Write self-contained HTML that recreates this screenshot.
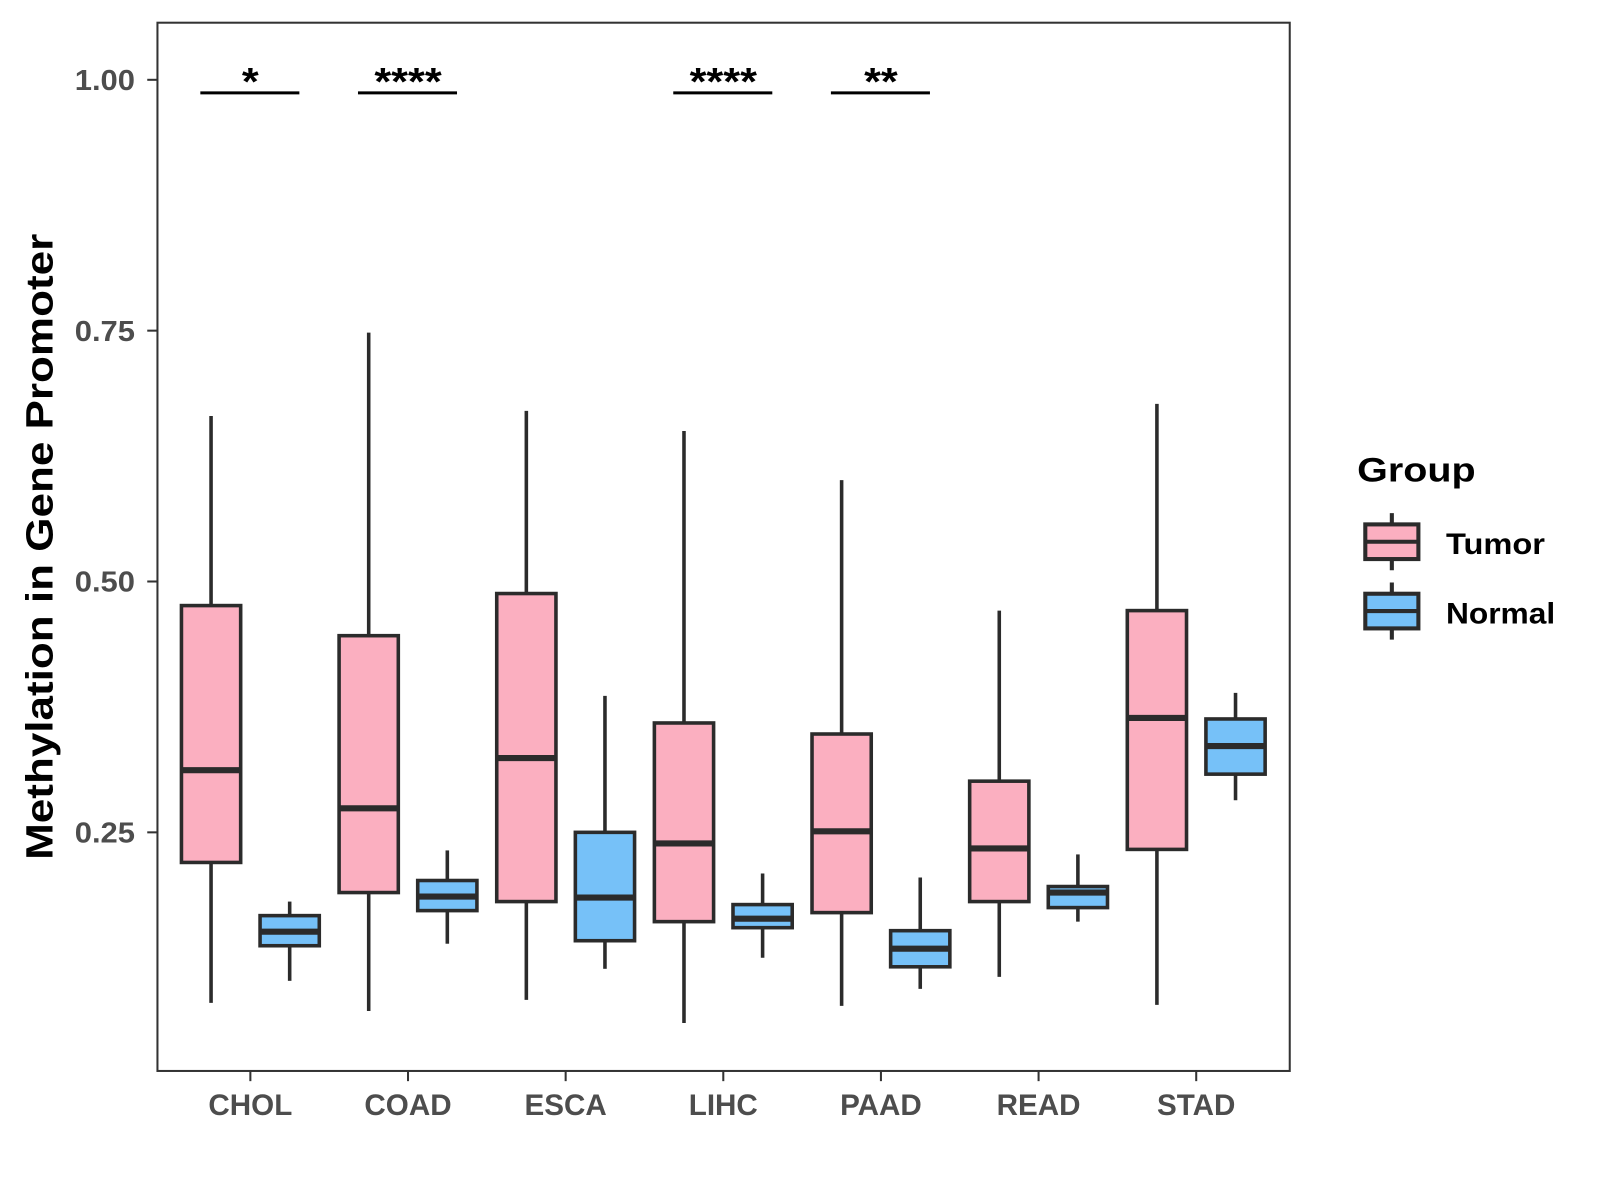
<!DOCTYPE html>
<html><head><meta charset="utf-8"><style>
html,body{margin:0;padding:0;background:#fff;}
svg{display:block;font-family:"Liberation Sans",Arial,sans-serif;}
</style></head><body>
<svg id="chart" width="1600" height="1200" viewBox="0 0 1600 1200">
<g id="root" transform="translate(-0.8,0.27) scale(1.021,1.0197)">
<rect x="155" y="22" width="1109" height="1028" fill="#fff" stroke="#333" stroke-width="2"/>
<g id="yaxis"></g>
<g id="xaxis"></g>
<g id="boxes"></g>
<g id="sig"></g>
<text transform="translate(52,536) rotate(-90)" text-anchor="middle" font-size="37" font-weight="bold" fill="#000" textLength="614" lengthAdjust="spacingAndGlyphs">Methylation in Gene Promoter</text>
<g>
<text x="1330" y="472" font-size="34" font-weight="bold" fill="#000" textLength="116" lengthAdjust="spacingAndGlyphs">Group</text>
<g>
<line x1="1364" y1="503" x2="1364" y2="559" stroke="#2b2b2b" stroke-width="4"/>
<rect x="1338" y="514" width="52" height="34" fill="#fbafc0" stroke="#2b2b2b" stroke-width="4"/>
<line x1="1338" y1="531" x2="1390" y2="531" stroke="#2b2b2b" stroke-width="4"/>
<text x="1417" y="543" font-size="29" font-weight="bold" fill="#000" textLength="97" lengthAdjust="spacingAndGlyphs">Tumor</text>
</g>
<g>
<line x1="1364" y1="571" x2="1364" y2="627" stroke="#2b2b2b" stroke-width="4"/>
<rect x="1338" y="582" width="52" height="34" fill="#76c1f8" stroke="#2b2b2b" stroke-width="4"/>
<line x1="1338" y1="599" x2="1390" y2="599" stroke="#2b2b2b" stroke-width="4"/>
<text x="1417" y="611" font-size="29" font-weight="bold" fill="#000" textLength="107" lengthAdjust="spacingAndGlyphs">Normal</text>
</g>
</g>
</g>
</svg>
<script>
const categories = ["CHOL","COAD","ESCA","LIHC","PAAD","READ","STAD"];
// [lowWhisker, q1, median, q3, highWhisker]
const tumorStats = [
  [0.080,0.220,0.312,0.476,0.665],
  [0.072,0.190,0.274,0.446,0.748],
  [0.083,0.181,0.324,0.488,0.670],
  [0.060,0.161,0.239,0.359,0.650],
  [0.077,0.170,0.251,0.348,0.601],
  [0.106,0.181,0.234,0.301,0.471],
  [0.078,0.233,0.364,0.471,0.677]
];
const normalStats = [
  [0.102,0.137,0.151,0.167,0.181],
  [0.139,0.172,0.186,0.202,0.232],
  [0.114,0.142,0.185,0.250,0.386],
  [0.125,0.155,0.164,0.178,0.209],
  [0.094,0.116,0.134,0.152,0.205],
  [0.161,0.175,0.190,0.196,0.228],
  [0.282,0.308,0.336,0.363,0.389]
];
const yTicks = [0.25,0.50,0.75,1.00];
const yTickLabels = ["0.25","0.50","0.75","1.00"];
const sigLabels = ["*","****","","****","**","",""];
const sigLevel = 0.987;

const NS="http://www.w3.org/2000/svg";
function y(v){return 78+(1-v)*984;}
function x(i){return 246+i*154.4;}
function mk(tag,attrs,parent){const e=document.createElementNS(NS,tag);for(const k in attrs)e.setAttribute(k,attrs[k]);parent.appendChild(e);return e;}

const ya=document.getElementById('yaxis');
yTicks.forEach((t,i)=>{
  const l=mk('line',{x1:145,x2:155,y1:y(t),y2:y(t),stroke:'#333','stroke-width':2},ya);
  
  
  const tx=mk('text',{x:133,y:y(t)+10,'text-anchor':'end','font-size':28,'font-weight':'bold',fill:'#4d4d4d',textLength:59,lengthAdjust:'spacingAndGlyphs'},ya);
  tx.textContent=yTickLabels[i];
  
  
});
const xa=document.getElementById('xaxis');
categories.forEach((c,i)=>{
  const l=mk('line',{x1:x(i),x2:x(i),y1:1050,y2:1060,stroke:'#333','stroke-width':2},xa);
  
  
  const tx=mk('text',{x:x(i),y:1093,'text-anchor':'middle','font-size':29,'font-weight':'bold',fill:'#4d4d4d'},xa);
  tx.textContent=c;
  
  
});
const bx=document.getElementById('boxes');
function drawBox(cx,s,fill,name){
  const g=mk('g',{},bx);
  
  
  const w=58;
  mk('line',{x1:cx,x2:cx,y1:y(s[4]),y2:y(s[3]),stroke:'#2b2b2b','stroke-width':3.5},g);
  mk('line',{x1:cx,x2:cx,y1:y(s[1]),y2:y(s[0]),stroke:'#2b2b2b','stroke-width':3.5},g);
  mk('rect',{x:cx-w/2,y:y(s[3]),width:w,height:y(s[1])-y(s[3]),fill:fill,stroke:'#2b2b2b','stroke-width':3.5},g);
  mk('line',{x1:cx-w/2,x2:cx+w/2,y1:y(s[2]),y2:y(s[2]),stroke:'#2b2b2b','stroke-width':6},g);
}
categories.forEach((c,i)=>{
  drawBox(x(i)-38.5,tumorStats[i],'#fbafc0','box-tumor-'+c.toLowerCase());
  drawBox(x(i)+38.5,normalStats[i],'#76c1f8','box-normal-'+c.toLowerCase());
});
const sg=document.getElementById('sig');
sigLabels.forEach((s,i)=>{
  if(!s)return;
  const l=mk('line',{x1:x(i)-49,x2:x(i)+48,y1:y(sigLevel),y2:y(sigLevel),stroke:'#000','stroke-width':3},sg);
  
  
  const t=mk('text',{x:x(i),y:y(sigLevel)+2,'text-anchor':'middle','font-size':38,'font-weight':'bold',fill:'#000'},sg);
  t.textContent=s;
  t.setAttribute('textLength', s.length*16.5);
  t.setAttribute('lengthAdjust','spacingAndGlyphs');
  
  
});
</script>
</body></html>
